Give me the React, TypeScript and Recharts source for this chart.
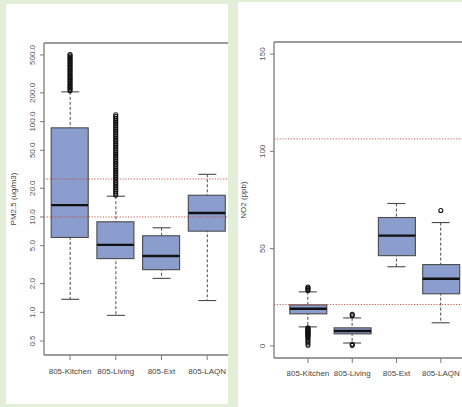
import React from 'react';
import { ComposedChart, Bar, Scatter, XAxis, YAxis, ReferenceLine } from 'recharts';

const CATEGORIES = ['805-Kitchen', '805-Living', '805-Ext', '805-LAQN'];

// PM2.5 (ug/m3), log axis
const PM_LOW = [1.37, 0.93, 2.27, 1.33];
const PM_Q1 = [6.1, 3.66, 2.8, 7.1];
const PM_MEDIAN = [13.3, 5.1, 3.9, 11.0];
const PM_Q3 = [86, 8.9, 6.35, 16.9];
const PM_HIGH = [205, 16.5, 7.7, 28];
const PM_OUT_KITCHEN = [210, 218, 226, 234, 242, 251, 260, 269, 279, 289, 299, 310, 321, 333, 345, 357, 370, 383, 397, 411, 426, 441, 457, 474, 491, 505];
const PM_OUT_LIVING = [
  17, 17.7, 18.5, 19.3, 20.2, 21.1, 22, 23, 24, 25, 26.1, 27.3, 28.5, 29.7, 31, 32.4, 33.8, 35.3, 36.8, 38.4, 40.1, 41.9, 43.7,
  45.6, 47.6, 49.7, 51.9, 54.2, 56.6, 59, 61.6, 64.3, 67.2, 70.1, 73.2, 76.4, 79.8, 83.3, 87, 90.8, 94.8, 99, 103, 108, 113, 118,
];
const PM_GUIDES = [25, 10];
const PM_TICKS = [0.5, 1, 2, 5, 10, 20, 50, 100, 200, 500];

// NO2 (ppb)
const NO2_LOW = [9.8, 1.5, 40.7, 11.9];
const NO2_Q1 = [16.5, 6.2, 46.4, 26.8];
const NO2_MEDIAN = [19.1, 7.7, 56.7, 34.5];
const NO2_Q3 = [21.1, 9.3, 66, 41.8];
const NO2_HIGH = [27.8, 14.4, 73.2, 63.4];
const NO2_OUT_KITCHEN = [28.5, 29.1, 29.7, 30.3, 9.3, 8.9, 8.5, 8.1, 7.7, 7.3, 6.9, 6.5, 6.1, 5.7, 5.3, 4.8, 4.3, 3.6, 2.6, 1.5, 0.4];
const NO2_OUT_LIVING = [15.6, 16.3, 0.9, 0.3];
const NO2_OUT_EXT: number[] = [];
const NO2_OUT_LAQN = [69.6];
const NO2_GUIDES = [106.4, 21.3];
const NO2_TICKS = [0, 50, 100, 150];

const FONT = '"Liberation Sans", Arial, sans-serif';
const AXIS = '#7a7a7a';
const BOX_FILL = '#8b9dcc';
const BOX_EDGE = '#4a4a4a';
const GUIDE = '#c8453a';

const makeRows = (low: number[], q1: number[], med: number[], q3: number[], high: number[]) =>
  CATEGORIES.map((name, i) => ({
    name,
    whisker: [low[i], high[i]],
    box: [q1[i], q3[i]],
    median: [med[i], med[i]],
  }));

const makeOutliers = (groups: number[][]) =>
  groups.flatMap((vals, i) => vals.map(v => ({ pos: i, value: v })));

const WhiskerShape = (p: any) => {
  const { x, width } = p;
  const top = Math.min(p.y, p.y + p.height);
  const bottom = Math.max(p.y, p.y + p.height);
  const cx = x + width / 2;
  return (
    <g>
      <line x1={cx} x2={cx} y1={top} y2={bottom} stroke={BOX_EDGE} strokeDasharray="3 2" strokeWidth={1} />
      <line x1={x} x2={x + width} y1={top} y2={top} stroke={BOX_EDGE} strokeWidth={1.1} />
      <line x1={x} x2={x + width} y1={bottom} y2={bottom} stroke={BOX_EDGE} strokeWidth={1.1} />
    </g>
  );
};

const BoxShape = (p: any) => {
  const top = Math.min(p.y, p.y + p.height);
  return <rect x={p.x} y={top} width={p.width} height={Math.abs(p.height)} fill={BOX_FILL} stroke={BOX_EDGE} strokeWidth={1.1} />;
};

const MedianShape = (p: any) => (
  <line x1={p.x} x2={p.x + p.width} y1={p.y} y2={p.y} stroke="#111" strokeWidth={2.4} />
);

const OutlierShape = (p: any) => (
  <circle cx={p.cx} cy={p.cy} r={2} fill="none" stroke="#111" strokeWidth={1.1} />
);

const yTick = (fmt: (v: number) => string) => (props: any) => {
  const { x, y, payload } = props;
  return (
    <text x={x} y={y} transform={`rotate(-90 ${x} ${y})`} textAnchor="middle" fontSize={8} fill="#555" fontFamily={FONT}>
      {fmt(payload.value)}
    </text>
  );
};

const xTick = (props: any) => {
  const { x, y, payload } = props;
  return (
    <text x={x} y={y} dy="0.71em" textAnchor="middle" fontSize={8} fill="#444" fontFamily={FONT}>
      {payload.value}
    </text>
  );
};

const AxisTitle = ({ viewBox, text, dx }: any) => {
  if (!viewBox) return null;
  const x = viewBox.x + dx;
  const y = viewBox.y + viewBox.height / 2;
  return (
    <text x={x} y={y} transform={`rotate(-90 ${x} ${y})`} textAnchor="middle" fontSize={8} fill="#444" fontFamily={FONT}>
      {text}
    </text>
  );
};

type PanelProps = {
  rows: any[];
  outliers: { pos: number; value: number }[];
  log?: boolean;
  domain: [number, number];
  ticks: number[];
  fmt: (v: number) => string;
  guides: number[];
  title: string;
  width: number;
  height: number;
  top: number;
  yWidth: number;
  padLeft: number;
  titleX: number;
  tickMargin: number;
};

function BoxPanel(props: PanelProps) {
  const { rows, outliers, log, domain, ticks, fmt, guides, title, width, height, top, yWidth, padLeft, titleX, tickMargin } = props;
  const pad = { left: padLeft, right: 0 };
  return (
    <ComposedChart width={width} height={height} data={rows} margin={{ top, right: 0, bottom: 19, left: 0 }}>
      <XAxis
        xAxisId="box"
        dataKey="name"
        padding={pad}
        height={30}
        axisLine={{ stroke: AXIS, strokeWidth: 1.3 }}
        tickLine={{ stroke: AXIS, strokeWidth: 1 }}
        tickSize={5}
        tickMargin={tickMargin}
        tick={xTick}
        interval={0}
      />
      <XAxis xAxisId="whisker" dataKey="name" padding={pad} hide />
      <XAxis xAxisId="median" dataKey="name" padding={pad} hide />
      <XAxis xAxisId="pts" type="number" dataKey="pos" domain={[-0.5, 3.5]} padding={pad} hide />
      <YAxis
        width={yWidth}
        type="number"
        scale={log ? 'log' : 'linear'}
        domain={domain}
        allowDataOverflow
        ticks={ticks}
        interval={0}
        axisLine={{ stroke: AXIS, strokeWidth: 1.3 }}
        tickLine={{ stroke: AXIS, strokeWidth: 1 }}
        tickSize={4}
        tickMargin={5}
        tick={yTick(fmt)}
        label={<AxisTitle text={title} dx={titleX} />}
      />
      <ReferenceLine xAxisId="box" y={domain[1]} stroke={AXIS} strokeWidth={1.3} />
      <Bar xAxisId="whisker" dataKey="whisker" barSize={18} shape={WhiskerShape} isAnimationActive={false} />
      <Bar xAxisId="box" dataKey="box" barSize={37} shape={BoxShape} isAnimationActive={false} />
      <Bar xAxisId="median" dataKey="median" barSize={37} shape={MedianShape} isAnimationActive={false} />
      <Scatter xAxisId="pts" data={outliers} dataKey="value" shape={OutlierShape} isAnimationActive={false} />
      {guides.map(g => (
        <ReferenceLine key={g} xAxisId="box" y={g} stroke={GUIDE} strokeDasharray="1.2 1.6" strokeWidth={0.9} />
      ))}
    </ComposedChart>
  );
}

export default function App() {
  const pmRows = makeRows(PM_LOW, PM_Q1, PM_MEDIAN, PM_Q3, PM_HIGH);
  const pmOut = makeOutliers([PM_OUT_KITCHEN, PM_OUT_LIVING, [], []]);
  const noRows = makeRows(NO2_LOW, NO2_Q1, NO2_MEDIAN, NO2_Q3, NO2_HIGH);
  const noOut = makeOutliers([NO2_OUT_KITCHEN, NO2_OUT_LIVING, NO2_OUT_EXT, NO2_OUT_LAQN]);

  return (
    <div style={{ position: 'absolute', left: 0, top: 0, width: 462, height: 407, background: '#e2eed8', overflow: 'hidden' }}>
      <div style={{ position: 'absolute', left: 6, top: 4, width: 222, height: 400, background: '#fff', overflow: 'hidden' }}>
        <BoxPanel
          rows={pmRows}
          outliers={pmOut}
          log
          domain={[0.357, 667]}
          ticks={PM_TICKS}
          fmt={v => v.toFixed(1)}
          guides={PM_GUIDES}
          title="PM2.5 (ug/m3)"
          width={224}
          height={400}
          top={39}
          yWidth={38}
          padLeft={3.2}
          titleX={10}
          tickMargin={8}
        />
      </div>
      <div style={{ position: 'absolute', left: 238, top: 2, width: 224, height: 405, background: '#fff', overflow: 'hidden' }}>
        <BoxPanel
          rows={noRows}
          outliers={noOut}
          domain={[-6.2, 156.2]}
          ticks={NO2_TICKS}
          fmt={v => String(v)}
          guides={NO2_GUIDES}
          title="NO2 (ppb)"
          width={225}
          height={405}
          top={40}
          yWidth={36}
          padLeft={11.8}
          titleX={8}
          tickMargin={7}
        />
      </div>
    </div>
  );
}
